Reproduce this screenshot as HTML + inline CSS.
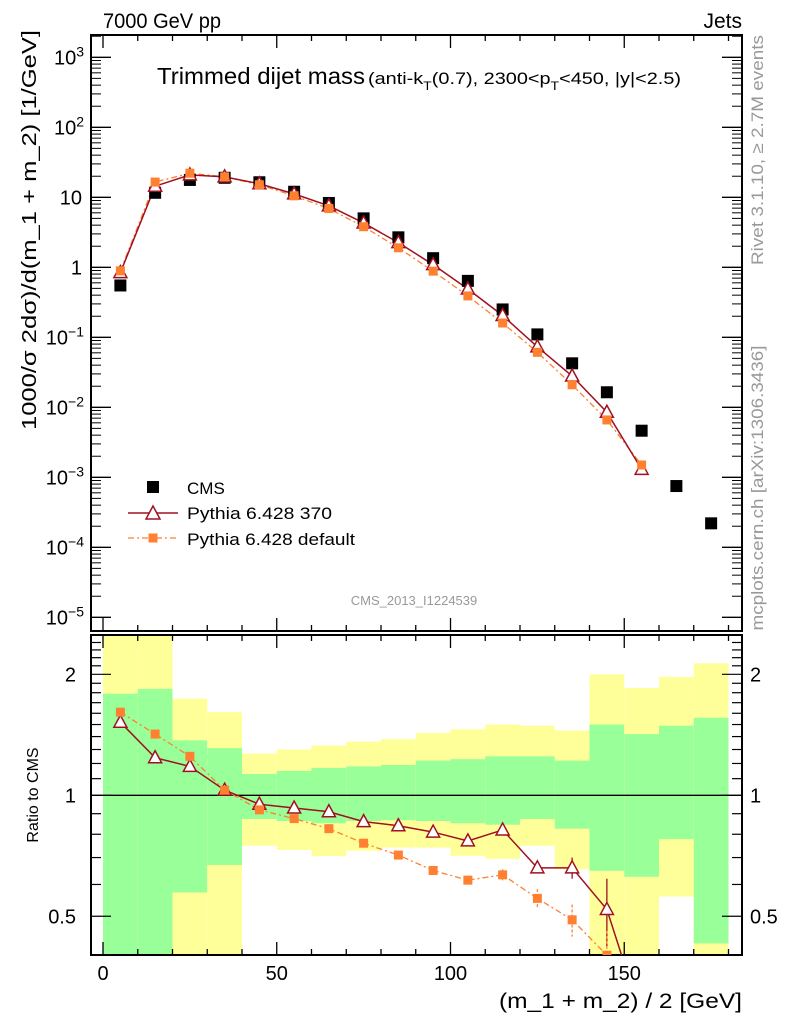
<!DOCTYPE html>
<html><head><meta charset="utf-8"><style>
body{margin:0;background:#fff;}
svg{display:block;font-family:"Liberation Sans",sans-serif;}
</style></head><body>
<svg id="c" width="786" height="1024" xmlns="http://www.w3.org/2000/svg">
<g id="bands"></g>
<g id="grid"></g>
<g id="series"></g>
<text x="103" y="28" font-size="21" textLength="118" lengthAdjust="spacingAndGlyphs">7000 GeV pp</text>
<text x="742" y="28" font-size="21" text-anchor="end">Jets</text>
<text x="157" y="84" font-size="23" textLength="208" lengthAdjust="spacingAndGlyphs">Trimmed dijet mass</text>
<text x="368" y="84" font-size="17" textLength="313" lengthAdjust="spacingAndGlyphs">(anti-k<tspan baseline-shift="-6" font-size="12">T</tspan>(0.7), 2300&lt;p<tspan baseline-shift="-6" font-size="12">T</tspan>&lt;450, |y|&lt;2.5)</text>
<text transform="translate(36,230) rotate(-90)" font-size="20" text-anchor="middle" textLength="400" lengthAdjust="spacingAndGlyphs">1000/σ 2dσ)/d(m_1 + m_2) [1/GeV]</text>
<text transform="translate(38,795) rotate(-90)" font-size="16" text-anchor="middle">Ratio to CMS</text>
<text x="742" y="1008" font-size="21" text-anchor="end" textLength="243" lengthAdjust="spacingAndGlyphs">(m_1 + m_2) / 2 [GeV]</text>
<text transform="translate(763,150) rotate(-90)" font-size="17" fill="#999" text-anchor="middle" textLength="230" lengthAdjust="spacingAndGlyphs">Rivet 3.1.10, ≥ 2.7M events</text>
<text transform="translate(763,488) rotate(-90)" font-size="17" fill="#999" text-anchor="middle" textLength="285" lengthAdjust="spacingAndGlyphs">mcplots.cern.ch [arXiv:1306.3436]</text>
<text x="414" y="605" font-size="13" fill="#999" text-anchor="middle">CMS_2013_I1224539</text>
<g>
<rect x="147" y="481" width="12" height="12" fill="#000"/>
<text x="187" y="494" font-size="17">CMS</text>
<line x1="128" y1="513" x2="178" y2="513" stroke="#a01020" stroke-width="1.5"/>
<path d="M153,506 L160,519 L146,519 Z" fill="#fff" stroke="#a01020" stroke-width="1.5"/>
<text x="187" y="519" font-size="17" textLength="145" lengthAdjust="spacingAndGlyphs">Pythia 6.428 370</text>
<line x1="128" y1="538" x2="178" y2="538" stroke="#ff8030" stroke-width="1.3" stroke-dasharray="6,3,2,3"/>
<rect x="148.5" y="533.5" width="9" height="9" fill="#ff8030"/>
<text x="187" y="545" font-size="17" textLength="168" lengthAdjust="spacingAndGlyphs">Pythia 6.428 default</text>
</g>
</svg>
<script>
const centers=[5,15,25,35,45,55,65,75,85,95,105,115,125,135,145,155,165,175];
const cmsVals=[0.55,11.6,17.7,19,16.4,12.0,8.3,5.0,2.68,1.35,0.64,0.25,0.11,0.0425,0.0164,0.00463,0.00075,0.00022];
const p370Vals=[0.84,14.4,20.9,19.6,15.6,11.2,7.55,4.3,2.25,1.09,0.49,0.205,0.073,0.028,0.0085,0.0013];
const defVals=[0.89,16.5,22.1,19.6,15.1,10.5,6.9,3.8,1.90,0.88,0.39,0.16,0.061,0.021,0.0066,0.0015];
const p370Ratio=[1.52,1.24,1.18,1.03,0.95,0.93,0.91,0.86,0.84,0.81,0.77,0.82,0.66,0.66,0.52,0.28];
const p370RatioErr=[0,0,0,0,0,0,0,0,0,0,0,0,0.02,0.04,0.1,0.05];
const defRatio=[1.61,1.42,1.25,1.03,0.92,0.875,0.826,0.76,0.71,0.65,0.615,0.634,0.554,0.49,0.40,0.33];
const defRatioErr=[0,0,0,0,0,0,0,0,0,0,0,0.02,0.03,0.045,0.06,0.05];
const yellowHi=[3,3,1.74,1.61,1.27,1.30,1.33,1.36,1.38,1.43,1.46,1.50,1.49,1.45,2.00,1.85,1.97,2.13];
const greenHi=[1.79,1.84,1.37,1.31,1.13,1.15,1.17,1.18,1.19,1.22,1.23,1.25,1.25,1.22,1.50,1.42,1.49,1.56];
const greenLo=[0.3,0.3,0.573,0.671,0.873,0.863,0.852,0.863,0.867,0.863,0.852,0.845,0.873,0.826,0.649,0.627,0.778,0.428];
const yellowLo=[0.3,0.3,0.3,0.3,0.749,0.731,0.706,0.728,0.741,0.741,0.707,0.695,0.749,0.655,0.3,0.3,0.560,0.3];
const xTicks=[0,50,100,150];
const yTickExp=[3,2,1,0,-1,-2,-3,-4,-5];
const rTicks=[2,1,0.5];

const NS="http://www.w3.org/2000/svg";
const L=91,R=742,T1=35,B1=631,T2=635,B2=955;
const X=v=>103+3.475*v;
const Y=v=>267.3-70*Math.log10(v);
const YR=r=>795.3-401.9*Math.log10(r);
const clampR=y=>Math.max(T2,Math.min(B2,y));
function mk(p,tag,a){const e=document.createElementNS(NS,tag);for(const k in a)e.setAttribute(k,a[k]);p.appendChild(e);return e;}
const bands=document.getElementById('bands'),grid=document.getElementById('grid'),ser=document.getElementById('series');

for(let i=0;i<centers.length;i++){
  const x0=X(centers[i]-5),w=X(centers[i]+5)-x0;
  const yh=clampR(YR(yellowHi[i])),yl=clampR(YR(yellowLo[i]));
  const r1=mk(bands,'rect',{x:x0,y:yh,width:w,height:yl-yh,fill:'#ffff99'});
  
  
  const gh=clampR(YR(greenHi[i])),gl=clampR(YR(greenLo[i]));
  const r2=mk(bands,'rect',{x:x0,y:gh,width:w,height:gl-gh,fill:'#99ff99'});
  
  
}
for(const [t,b] of [[T1,B1],[T2,B2]]){
  const f=mk(grid,'rect',{x:L,y:t,width:R-L,height:b-t,fill:'none',stroke:'#000','stroke-width':2});
  
  
  for(let v=0;v<=180;v+=10){
    const maj=v%50==0,len=maj?13:6;
    mk(grid,'line',{x1:X(v),x2:X(v),y1:t,y2:t+len,stroke:'#000','stroke-width':1.3});
    mk(grid,'line',{x1:X(v),x2:X(v),y1:b,y2:b-len,stroke:'#000','stroke-width':1.3});
  }
}
mk(grid,'line',{x1:L,x2:R,y1:YR(1),y2:YR(1),stroke:'#000','stroke-width':1.3});
yTickExp.forEach(e=>{
  const y=Y(Math.pow(10,e));
  mk(grid,'line',{x1:L,x2:L+20,y1:y,y2:y,stroke:'#000','stroke-width':1.3});
  mk(grid,'line',{x1:R,x2:R-20,y1:y,y2:y,stroke:'#000','stroke-width':1.3});
  if(e>-5){for(let m=2;m<10;m++){const ym=Y(m*Math.pow(10,e-1));if(ym<T1)continue;
    mk(grid,'line',{x1:L,x2:L+10,y1:ym,y2:ym,stroke:'#000','stroke-width':1});
    mk(grid,'line',{x1:R,x2:R-10,y1:ym,y2:ym,stroke:'#000','stroke-width':1});}}
  const t=mk(grid,'text',{x:e===1||e===0?82:84,y:y+7,'font-size':20,'text-anchor':'end'});
  
  
  if(e===0)t.textContent='1';else if(e===1)t.textContent='10';
  else{t.textContent='10';const s=mk(t,'tspan',{dy:-8,'font-size':14});s.textContent=String(e).replace('-','−');}
});
for(let m=2;m<10;m++){const ym=Y(m*1e3);if(ym<T1)continue;mk(grid,'line',{x1:L,x2:L+10,y1:ym,y2:ym,stroke:'#000'});mk(grid,'line',{x1:R,x2:R-10,y1:ym,y2:ym,stroke:'#000'});}
[0.4,0.5,0.6,0.7,0.8,0.9,1,1.1,1.2,1.3,1.4,1.5,1.6,1.7,1.8,1.9,2,2.1,2.2,2.3,2.4,2.5].forEach(r=>{
  const y=YR(r);if(y<T2||y>B2)return;const maj=rTicks.includes(r),len=maj?20:10;
  mk(grid,'line',{x1:L,x2:L+len,y1:y,y2:y,stroke:'#000','stroke-width':1.2});
  mk(grid,'line',{x1:R,x2:R-len,y1:y,y2:y,stroke:'#000','stroke-width':1.2});
});
rTicks.forEach(r=>{
  const a=mk(grid,'text',{x:76,y:YR(r)+7,'font-size':20,'text-anchor':'end'});a.textContent=String(r);
  
  
  const b=mk(grid,'text',{x:750,y:YR(r)+7,'font-size':20});b.textContent=String(r);
  
  
});
xTicks.forEach(v=>{const t=mk(grid,'text',{x:X(v),y:980,'font-size':20,'text-anchor':'middle'});t.textContent=String(v);
  
  });

const defs=mk(document.getElementById('c'),'defs',{});
const cp=mk(defs,'clipPath',{id:'rc'});mk(cp,'rect',{x:L,y:T2,width:R-L,height:B2-T2});
const rg=mk(ser,'g',{'clip-path':'url(#rc)'});
function tri(p,x,y,n){const e=mk(p,'path',{d:`M${x},${y-7} L${x+6.5},${y+5} L${x-6.5},${y+5} Z`,fill:'#fff',stroke:'#a01020','stroke-width':1.5});
  
  }
function sq(p,x,y,s,c,n){const e=mk(p,'rect',{x:x-s/2,y:y-s/2,width:s,height:s,fill:c});
  
  }
const dp=defVals.map((v,i)=>X(centers[i])+','+Y(v)).join(' ');
mk(ser,'polyline',{points:dp,fill:'none',stroke:'#ff8030','stroke-width':1.3,'stroke-dasharray':'6,3,2,3'});
const pp=p370Vals.map((v,i)=>X(centers[i])+','+Y(v)).join(' ');
mk(ser,'polyline',{points:pp,fill:'none',stroke:'#a01020','stroke-width':1.5});
cmsVals.forEach((v,i)=>sq(ser,X(centers[i]),Y(v),12,'#000','cms-point'));
p370Vals.forEach((v,i)=>tri(ser,X(centers[i]),Y(v),'p370-point'));
defVals.forEach((v,i)=>sq(ser,X(centers[i]),Y(v),9,'#ff8030','default-point'));
mk(rg,'polyline',{points:defRatio.map((v,i)=>X(centers[i])+','+YR(v)).join(' '),fill:'none',stroke:'#ff8030','stroke-width':1.3,'stroke-dasharray':'6,3,2,3'});
mk(rg,'polyline',{points:p370Ratio.map((v,i)=>X(centers[i])+','+YR(v)).join(' '),fill:'none',stroke:'#a01020','stroke-width':1.5});
p370Ratio.forEach((v,i)=>{if(p370RatioErr[i]>0){const x=X(centers[i]);mk(rg,'line',{x1:x,x2:x,y1:YR(v+p370RatioErr[i]),y2:YR(v-p370RatioErr[i]),stroke:'#a01020','stroke-width':1.3});}
  tri(rg,X(centers[i]),YR(v),'p370-ratio-point');});
defRatio.forEach((v,i)=>{if(defRatioErr[i]>0){const x=X(centers[i]);mk(rg,'line',{x1:x,x2:x,y1:YR(v+defRatioErr[i]),y2:YR(v-defRatioErr[i]),stroke:'#ff8030','stroke-width':1.3,'stroke-dasharray':'3,2'});}
  sq(rg,X(centers[i]),YR(v),9,'#ff8030','default-ratio-point');});
</script>
</body></html>
